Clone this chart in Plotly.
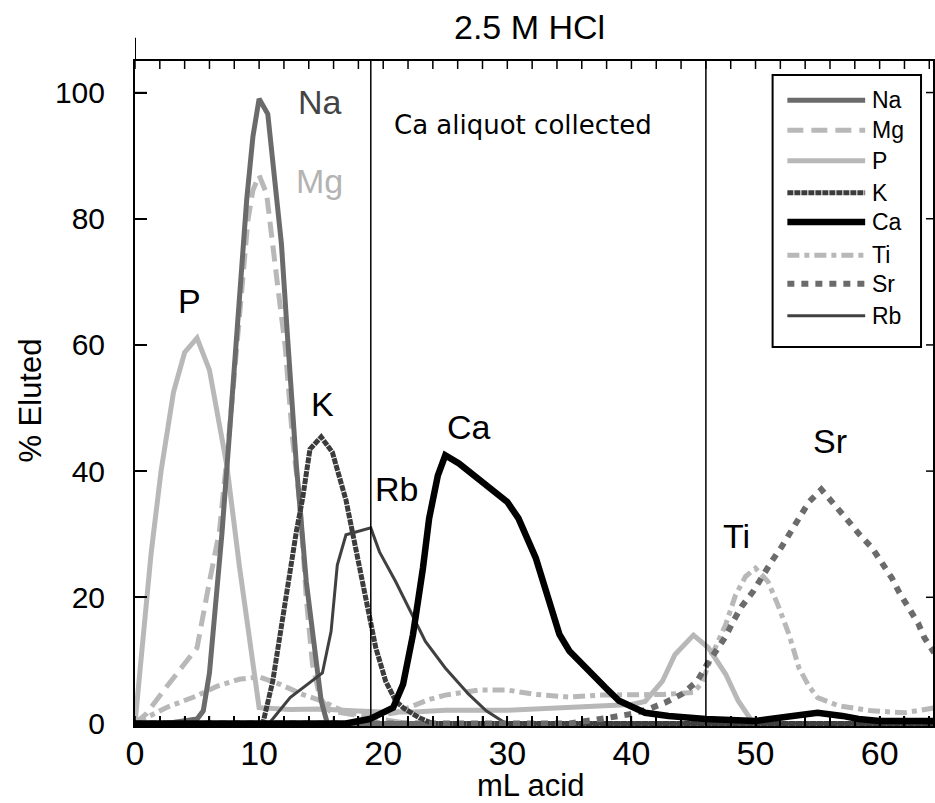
import plotly.graph_objects as go

# ---------------- data ----------------
na_x = [0, 2.5, 5, 5.5, 6, 6.5, 7, 7.5, 8, 8.5, 9, 9.5, 10, 10.7, 11.1, 11.8, 12.3, 13, 13.8, 14.6, 15, 15.5, 20, 30, 40, 50, 60, 65]
na_y = [0, 0, 0.7, 2, 8, 18, 30, 43, 57, 69, 83, 93, 99, 96.6, 89, 76, 61, 41, 22.5, 9.4, 3.6, 0, 0, 0, 0, 0, 0, 0]

mg_x = [0, 0.9, 2.3, 3.9, 5, 6, 6.8, 7.5, 8, 8.3, 8.6, 9.1, 9.5, 10, 10.6, 11, 11.5, 12.1, 12.7, 13.3, 13.8, 14.3, 14.9, 15.7, 18, 20, 22, 30, 40, 50, 60, 65]
mg_y = [0, 1.5, 5.2, 9.4, 12, 22.5, 30.4, 44, 55.6, 62.5, 69.3, 79.8, 84.5, 86.9, 84, 78, 69.3, 59.8, 45, 34.6, 19.9, 9.4, 4.1, 2, 1.2, 0.6, 0, 0, 0, 0, 0, 0]

p_x = [0, 0.67, 1.3, 2.1, 3.1, 4.0, 5.0, 6.0, 7.4, 8.4, 9.4, 10, 12.5, 15, 17.5, 20, 22.5, 25, 30, 35, 40, 41.1, 42.5, 43.5, 45, 46.2, 47.6, 48.6, 49.7, 50.5, 55, 60, 65]
p_y = [0, 14.6, 27, 40, 52.5, 58.8, 61.1, 56, 40.9, 25.1, 11.5, 2.5, 2.2, 2.3, 2, 1.8, 1.8, 2.1, 2.1, 2.6, 3, 3.5, 6.7, 10.9, 14, 12, 7.8, 3.6, 0.4, 0, 0, 0, 0]

k_x = [0, 10.3, 11.1, 11.9, 12.5, 13, 13.5, 14.1, 15, 15.9, 17, 17.8, 18.6, 19.4, 20.2, 21, 21.6, 22.9, 24, 30, 40, 50, 60, 65]
k_y = [0, 0, 6.7, 17.2, 25.1, 30.4, 35.6, 43.5, 45.4, 43, 35.4, 27.8, 19.9, 12, 6.7, 3.6, 2.5, 0.9, 0, 0, 0, 0, 0, 0]

ca_x = [0, 17, 18.9, 20.8, 21.6, 22.4, 23.2, 23.7, 24.4, 25, 26.1, 28, 30, 30.9, 32.3, 34.2, 35, 37.9, 39, 41.1, 43, 46, 50, 53, 55, 57, 58.3, 60, 65]
ca_y = [0, 0, 0.7, 2.5, 6.2, 14.1, 24.6, 32.5, 39.3, 42.5, 41.2, 38.3, 35.1, 32.5, 26.2, 14.1, 11.5, 5.7, 3.6, 1.7, 1.2, 0.7, 0.4, 1.2, 1.7, 1.2, 0.7, 0.4, 0.4]

ti_x = [0, 2.5, 5, 6.6, 8.4, 10, 11.7, 13.5, 15, 17.1, 18.9, 21, 23.7, 25, 27.7, 30, 32.3, 35, 37.6, 40, 42.5, 45, 45.7, 46.5, 47.6, 48.4, 49.2, 50, 51, 51.8, 52.7, 53.5, 54.3, 55, 56.7, 59.4, 62, 64.5]
ti_y = [0, 2.5, 4.4, 5.9, 7, 7.4, 6.2, 4.6, 3.6, 1.7, 1.2, 1.7, 3.8, 4.5, 5.3, 5.3, 4.6, 4.2, 4.5, 4.5, 4.6, 4.9, 6.5, 10.9, 15.7, 20.4, 23.3, 24.6, 22.5, 18.8, 14.1, 8.8, 5.9, 4.1, 2.8, 2, 1.7, 2.5]

sr_x = [0, 35, 37.5, 40, 41.4, 42.7, 44.1, 45.3, 46.1, 46.9, 47.6, 48.2, 48.9, 49.8, 50.5, 51.3, 52.1, 52.8, 53.6, 54.3, 55.3, 56.3, 57.3, 58.4, 59.4, 60.2, 61, 61.6, 62.4, 63.1, 63.6, 64.4]
sr_y = [0, 0, 0.7, 1.5, 2.3, 3.3, 4.7, 6.7, 9.4, 11.7, 13.8, 16.2, 18.6, 20.9, 23.3, 25.7, 28, 30.4, 32.8, 35.1, 37.1, 34.9, 32.5, 29.9, 27.8, 25.4, 23, 20.7, 18.3, 15.9, 13.6, 11.2]

rb_x = [0, 10.8, 12.5, 15.1, 15.8, 16.3, 17, 19, 19.7, 21, 23.4, 25, 26.9, 28.3, 29.9, 40, 50, 60, 65]
rb_y = [0, 0, 4.1, 8, 14.6, 25.1, 29.9, 31, 27.2, 22.5, 13, 8.8, 4.6, 2, 0, 0, 0, 0, 0]

series_names = ["Na", "Mg", "P", "K", "Ca", "Ti", "Sr", "Rb"]
series_x = [na_x, mg_x, p_x, k_x, ca_x, ti_x, sr_x, rb_x]
series_y = [na_y, mg_y, p_y, k_y, ca_y, ti_y, sr_y, rb_y]

# axis ticks
x_tickvals = list(range(0, 66, 2))
x_ticktext = [str(v) if v % 10 == 0 else "" for v in x_tickvals]
y_tickvals = [0, 20, 40, 60, 80, 100]

# collection window boundaries (mL)
window_edges = [19, 46]

# peak labels
label_text = ["Na", "Mg", "P", "K", "Ca", "Rb", "Ti", "Sr"]
label_x = [14.9, 14.9, 4.4, 15.1, 26.9, 21.1, 48.5, 56.0]
label_y = [98.5, 86.0, 67.0, 50.6, 47.0, 37.2, 29.7, 44.8]
label_col = ["#444444", "#b3b3b3", "#000000", "#000000", "#000000", "#000000", "#000000", "#000000"]

# ---------------- styles ----------------
styles = {
    "Na": dict(color="#6b6b6b", width=5, dash="solid"),
    "Mg": dict(color="#b8b8b8", width=5, dash="16px,8px"),
    "P":  dict(color="#b8b8b8", width=5, dash="solid"),
    "K":  dict(color="#3c3c3c", width=5, dash="6px,1px"),
    "Ca": dict(color="#000000", width=6.5, dash="solid"),
    "Ti": dict(color="#b8b8b8", width=5, dash="12px,5px,5px,5px"),
    "Sr": dict(color="#6b6b6b", width=6, dash="7px,7px"),
    "Rb": dict(color="#404040", width=3, dash="solid"),
}

FONT = "Liberation Sans, Arial, sans-serif"
PLOT_W, PLOT_H = 800, 665  # plot-area size in px (from margins below)

fig = go.Figure()
order = ["P", "Mg", "Ti", "Na", "K", "Rb", "Sr", "Ca"]
for nm in order:
    i = series_names.index(nm)
    fig.add_trace(go.Scatter(x=series_x[i], y=series_y[i], mode="lines", name=nm,
                             line=styles[nm], showlegend=False))

shapes = []
for xe in window_edges:
    shapes.append(dict(type="line", xref="x", yref="paper", x0=xe, x1=xe, y0=0, y1=1,
                       line=dict(color="black", width=1.5)))
shapes.append(dict(type="line", xref="x", yref="paper", x0=0, x1=0, y0=1, y1=1.035,
                   line=dict(color="black", width=2)))

# inward tick marks on all four sides, placed at the axis tick values
tick_line = dict(color="black", width=1.5)
for v in x_tickvals:
    shapes.append(dict(type="line", xref="x", yref="paper", x0=v, x1=v, y0=0, y1=10 / PLOT_H,
                       line=tick_line, layer="above"))
    shapes.append(dict(type="line", xref="x", yref="paper", x0=v, x1=v, y0=1, y1=1 - 8 / PLOT_H,
                       line=tick_line, layer="above"))
for v in y_tickvals:
    shapes.append(dict(type="line", xref="paper", yref="y", x0=0, x1=12 / PLOT_W, y0=v, y1=v,
                       line=tick_line, layer="above"))
    shapes.append(dict(type="line", xref="paper", yref="y", x0=1, x1=1 - 7 / PLOT_W, y0=v, y1=v,
                       line=tick_line, layer="above"))

annotations = []
for t, x, y, c in zip(label_text, label_x, label_y, label_col):
    annotations.append(dict(x=x, y=y, xref="x", yref="y", text=t, showarrow=False,
                            xanchor="center", yanchor="middle",
                            font=dict(family=FONT, size=34, color=c)))
annotations.append(dict(x=31.3, y=94.8, xref="x", yref="y", text="Ca aliquot collected",
                        showarrow=False, xanchor="center", yanchor="middle",
                        font=dict(family="DejaVu Sans, sans-serif", size=26, color="black")))
annotations.append(dict(x=0.494, y=1.051, xref="paper", yref="paper", text="2.5 M HCl",
                        showarrow=False, xanchor="center", yanchor="middle",
                        font=dict(family=FONT, size=34, color="black")))
annotations.append(dict(x=0.495, y=-0.090, xref="paper", yref="paper", text="mL acid",
                        showarrow=False, xanchor="center", yanchor="middle",
                        font=dict(family=FONT, size=31, color="black")))
annotations.append(dict(x=-0.131, y=0.49, xref="paper", yref="paper", text="% Eluted",
                        textangle=-90, showarrow=False, xanchor="center", yanchor="middle",
                        font=dict(family=FONT, size=31, color="black")))

# custom legend (box, samples, names)
lg_x0, lg_x1, lg_y0, lg_y1 = 0.799, 0.985, 0.570, 0.979
shapes.append(dict(type="rect", xref="paper", yref="paper", x0=lg_x0, x1=lg_x1, y0=lg_y0, y1=lg_y1,
                   line=dict(color="black", width=2), fillcolor="white", layer="above"))
lg_rows = [0.941, 0.896, 0.850, 0.802, 0.758, 0.708, 0.665, 0.617]
for nm, yy in zip(series_names, lg_rows):
    st = styles[nm]
    shapes.append(dict(type="line", xref="paper", yref="paper", x0=0.8175, x1=0.915, y0=yy, y1=yy,
                       line=dict(color=st["color"], width=st["width"], dash=st["dash"]), layer="above"))
    annotations.append(dict(x=0.9215, y=yy, xref="paper", yref="paper", text=nm,
                            xanchor="left", yanchor="middle", showarrow=False,
                            font=dict(family=FONT, size=23, color="black")))

fig.update_layout(
    width=935, height=803,
    margin=dict(l=135, r=0, t=61, b=77),
    paper_bgcolor="white", plot_bgcolor="white",
    shapes=shapes, annotations=annotations,
    showlegend=False,
    xaxis=dict(range=[0, 64.3], tickmode="array", tickvals=x_tickvals, ticktext=x_ticktext,
               ticks="inside", ticklen=10, tickwidth=1.5, tickcolor="black",
               showline=True, linecolor="black", linewidth=2, mirror=True,
               showgrid=False, zeroline=False, ticklabelstandoff=-4,
               tickfont=dict(family=FONT, size=34, color="black")),
    yaxis=dict(range=[-0.4, 105], tickmode="array", tickvals=y_tickvals,
               ticks="inside", ticklen=12, tickwidth=1.5, tickcolor="black",
               showline=True, linecolor="black", linewidth=2, mirror=True,
               showgrid=False, zeroline=False, ticklabelstandoff=22,
               tickfont=dict(family=FONT, size=30, color="black")),
)

fig.write_html("out.html")
